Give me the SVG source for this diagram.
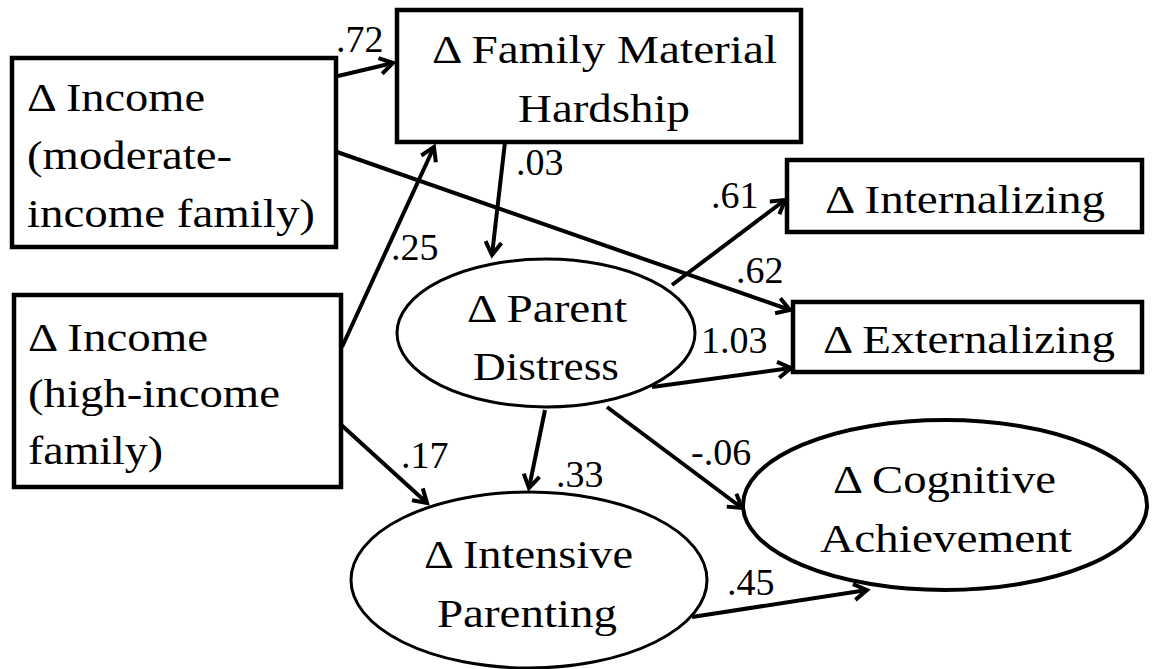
<svg xmlns="http://www.w3.org/2000/svg" width="1152" height="669" viewBox="0 0 1152 669" font-family="Liberation Serif, Times New Roman, serif">
<style>
.box{fill:#fff;stroke:#000;stroke-width:4.5}
.ell{fill:#fff;stroke:#000;stroke-width:3}
.t{font-family:Liberation Serif,Tinos,Times New Roman,serif;font-size:41px;fill:#000}
.lbl{font-family:Liberation Serif,Tinos,Times New Roman,serif;font-size:38px;fill:#000}
.c{fill:none;stroke:#000;stroke-width:4;marker-end:url(#arr)}
</style>
<defs>
<marker id="arr" viewBox="0 0 20 20" refX="17" refY="10" markerWidth="20" markerHeight="20" markerUnits="userSpaceOnUse" orient="auto" overflow="visible">
<path d="M4,2 L17,10 L4,18" fill="none" stroke="#000" stroke-width="4"/>
</marker>
</defs>
<rect width="1152" height="669" fill="#fff"/>
<g id="connectors">
<line class="c" x1="338" y1="76" x2="393" y2="63"/>
<line class="c" x1="505" y1="142" x2="492" y2="255"/>
<line class="c" x1="342" y1="347" x2="434" y2="147"/>
<line class="c" x1="337" y1="152" x2="790" y2="310"/>
<line class="c" x1="672" y1="285" x2="785" y2="200"/>
<line class="c" x1="652" y1="387" x2="791" y2="368"/>
<line class="c" x1="545" y1="410" x2="529" y2="488"/>
<line class="c" x1="607" y1="407" x2="742" y2="508"/>
<line class="c" x1="338" y1="422" x2="427" y2="503"/>
<line class="c" x1="692" y1="617" x2="867" y2="590"/>
<text class="lbl" x="336" y="52" font-family="Liberation Serif">.72</text>
<text class="lbl" x="516" y="175" font-family="Liberation Serif">.03</text>
<text class="lbl" x="391" y="260" font-family="Liberation Serif">.25</text>
<text class="lbl" x="736" y="283" font-family="Liberation Serif">.62</text>
<text class="lbl" x="711" y="208" font-family="Liberation Serif">.61</text>
<text class="lbl" x="701" y="353" font-family="Liberation Serif">1.03</text>
<text class="lbl" x="556" y="487" font-family="Liberation Serif">.33</text>
<text class="lbl" x="691" y="465" font-family="Liberation Serif">-.06</text>
<text class="lbl" x="401" y="468" font-family="Liberation Serif">.17</text>
<text class="lbl" x="727" y="595" font-family="Liberation Serif">.45</text>
</g>
<g id="income-moderate">
<rect class="box" x="12" y="58" width="324" height="189"/>
<text class="t" x="27" y="111" textLength="178" lengthAdjust="spacingAndGlyphs">Δ Income</text>
<text class="t" x="27" y="169" textLength="205" lengthAdjust="spacingAndGlyphs">(moderate-</text>
<text class="t" x="27" y="227" textLength="288" lengthAdjust="spacingAndGlyphs">income family)</text>
</g>
<g id="income-high">
<rect class="box" x="14" y="295" width="327" height="192"/>
<text class="t" x="28" y="351" textLength="180" lengthAdjust="spacingAndGlyphs">Δ Income</text>
<text class="t" x="28" y="407" textLength="252" lengthAdjust="spacingAndGlyphs">(high-income</text>
<text class="t" x="28" y="464" textLength="135" lengthAdjust="spacingAndGlyphs">family)</text>
</g>
<g id="hardship">
<rect class="box" x="397" y="10" width="404" height="132"/>
<text class="t" x="432" y="63" textLength="345" lengthAdjust="spacingAndGlyphs">Δ Family Material</text>
<text class="t" x="518" y="122" textLength="172" lengthAdjust="spacingAndGlyphs">Hardship</text>
</g>
<g id="internalizing">
<rect class="box" x="787" y="160" width="355" height="72"/>
<text class="t" x="825" y="213" textLength="280" lengthAdjust="spacingAndGlyphs">Δ Internalizing</text>
</g>
<g id="externalizing">
<rect class="box" x="793" y="302" width="349" height="70"/>
<text class="t" x="823" y="353" textLength="292" lengthAdjust="spacingAndGlyphs">Δ Externalizing</text>
</g>
<g id="parent-distress">
<ellipse class="ell" cx="546" cy="333" rx="149" ry="74"/>
<text class="t" x="467" y="322" textLength="160" lengthAdjust="spacingAndGlyphs">Δ Parent</text>
<text class="t" x="473" y="380" textLength="146" lengthAdjust="spacingAndGlyphs">Distress</text>
</g>
<g id="intensive-parenting">
<ellipse class="ell" cx="529" cy="580" rx="178" ry="88"/>
<text class="t" x="424" y="568" textLength="209" lengthAdjust="spacingAndGlyphs">Δ Intensive</text>
<text class="t" x="437" y="627" textLength="180" lengthAdjust="spacingAndGlyphs">Parenting</text>
</g>
<g id="cognitive">
<ellipse class="ell" cx="945" cy="505" rx="202" ry="85" style="stroke-width:4"/>
<text class="t" x="833" y="493" textLength="223" lengthAdjust="spacingAndGlyphs">Δ Cognitive</text>
<text class="t" x="820" y="552" textLength="252" lengthAdjust="spacingAndGlyphs">Achievement</text>
</g>
</svg>
